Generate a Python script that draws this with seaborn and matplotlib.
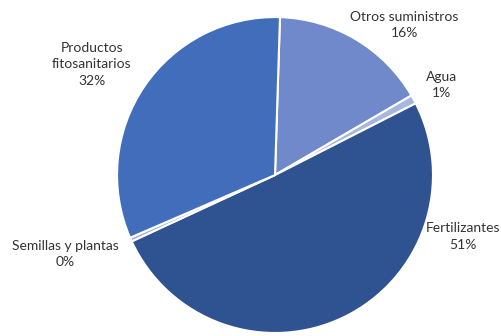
import matplotlib
matplotlib.use("Agg")
import matplotlib.pyplot as plt
import seaborn as sns

# Data
categorias = ["Otros suministros", "Agua", "Fertilizantes", "Semillas y plantas", "Productos\nfitosanitarios"]
porcentajes = [16.1, 0.9, 50.6, 0.4, 32.0]
etiquetas_pct = ["16%", "1%", "51%", "0%", "32%"]
colores = ["#6f89cb", "#a7b6df", "#2f5290", "#9fb0dc", "#416dbb"]

# label anchor positions (in pie-radius units)
pos_etiquetas = [(0.82, 0.95), (1.057, 0.57), (1.19, -0.39), (-1.33, -0.50), (-1.16, 0.70)]

sns.set_theme(style="white")
plt.rcParams["font.family"] = ["Lato", "DejaVu Sans"]

fig = plt.figure(figsize=(5.02, 3.36), dpi=100)
ax = fig.add_axes([0, 0, 1, 1])

ax.pie(
    porcentajes,
    colors=colores,
    startangle=88.2,
    counterclock=False,
    radius=1.0,
    wedgeprops=dict(edgecolor="white", linewidth=1.5),
)

for nombre, pct, (x, y) in zip(categorias, etiquetas_pct, pos_etiquetas):
    ax.text(x, y, f"{nombre}\n{pct}", ha="center", va="center",
            fontsize=10, color="#333333", linespacing=1.45)

ax.set_xlim(-1.741, 1.437)
ax.set_ylim(-1.019, 1.108)
ax.set_aspect("auto")
ax.axis("off")

fig.savefig("out.png", dpi=100, facecolor="white")
plt.close(fig)
